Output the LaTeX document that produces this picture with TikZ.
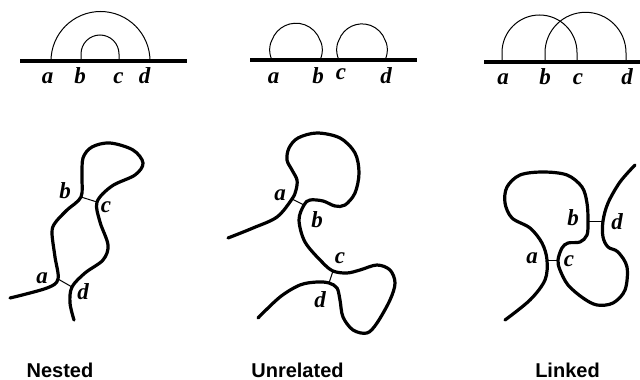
\documentclass[tikz,border=0pt]{standalone}
\usepackage{fontspec}
\setmainfont{Liberation Serif}
\newfontfamily\titlefont{Liberation Sans}
\begin{document}
\tikzset{
 strand/.style={line width=3.2pt, line cap=round, line join=round},
 baseln/.style={line width=3.4pt},
 arcline/.style={line width=1pt},
 bond/.style={line width=1pt},
 lbl/.style={font=\fontsize{23}{26}\selectfont\bfseries\itshape, inner sep=0pt},
 toplbl/.style={lbl, anchor=base},
 ttl/.style={font=\titlefont\fontsize{20}{24}\selectfont\bfseries, inner sep=0pt, anchor=base},
}
\begin{tikzpicture}[x=1pt,y=-1pt]
\useasboundingbox (0,0) rectangle (640,380);

% ---------- top row: arc diagrams ----------
% Nested
\coordinate (n1L) at (20,61); \coordinate (n1R) at (187,61);
\draw[baseln] (n1L) -- (n1R);
\draw[arcline] (51,61) arc[start angle=180, end angle=360, radius=49.5];
\draw[arcline] (81,61) -- (81,54) arc[start angle=180, end angle=360, radius=19] -- (119,61);
\node[toplbl] (ta1) at (47.5,83) {a};
\node[toplbl] (tb1) at (80,83) {b};
\node[toplbl] (tc1) at (118.5,83) {c};
\node[toplbl] (td1) at (144.5,83) {d};

% Unrelated
\coordinate (n2L) at (250,60); \coordinate (n2R) at (417,60);
\draw[baseln] (n2L) -- (n2R);
\draw[arcline] (272,60) .. controls (268,52) and (270,43) .. (272,40) arc[start angle=200, end angle=340, radius=25.5] .. controls (322,43) and (324,52) .. (320,60);
\draw[arcline] (339,60) .. controls (335,52) and (337,43) .. (339,40) arc[start angle=200, end angle=340, radius=24.5] .. controls (387,43) and (389,52) .. (385,60);
\node[toplbl] (ta2) at (273.5,83) {a};
\node[toplbl] (tb2) at (318,83) {b};
\node[toplbl] (tc2) at (341,79) {c};
\node[toplbl] (td2) at (386,83) {d};

% Linked
\coordinate (n3L) at (484,62); \coordinate (n3R) at (640,62);
\draw[baseln] (n3L) -- (n3R);
\draw[arcline] (502,62) -- (502,52.5) arc[start angle=180, end angle=360, radius=37.5] -- (577,62);
\draw[arcline] (545,62) -- (545,52.8) arc[start angle=180, end angle=360, radius=40.5] -- (626,62);
\node[toplbl] (ta3) at (503,84) {a};
\node[toplbl] (tb3) at (545,84) {b};
\node[toplbl] (tc3) at (578,84) {c};
\node[toplbl] (td3) at (627,84) {d};

% ---------- bottom row: strands ----------
% Nested
\coordinate (a1) at (58,279);
\coordinate (b1) at (81,197);
\coordinate (c1) at (97,202);
\coordinate (d1) at (72,287);
\draw[strand] plot[smooth, tension=0.55] coordinates {
 (10,298) (47,288) (a1) (55,257) (52,233) (55,223) (67,210) (b1)
 (82,177) (83,158) (92,147) (110,143) (133,150) (143,163) (135,175)
 (112,186) (c1) (100,222) (108,245) (103,260) (85,273) (d1) (70,303) (74,320)};
\draw[bond] (a1) -- (d1);
\draw[bond] (b1) -- (c1);
\node[lbl] (la1) at (42,278) {a};
\node[lbl] (lb1) at (65,191) {b};
\node[lbl] (lc1) at (106,207) {c};
\node[lbl] (ld1) at (83,292) {d};

% Unrelated
\coordinate (a2) at (292,199);
\coordinate (b2) at (304,205);
\coordinate (c2) at (333,271);
\coordinate (d2) at (329,283);
\draw[strand] plot[smooth, tension=0.55] coordinates {
 (228,238) (253,228) (277,217) (a2) (296,190) (297,180) (292,170) (287,160)
 (289,148) (298,138) (317,133) (340,138) (355,153) (359,173) (355,193)
 (345,205) (335,206) (323,201) (310,200) (b2) (299,220) (305,242) (322,262)
 (c2) (347,273) (360,270) (377,265) (390,270) (395,283) (390,300) (377,323)
 (367,333) (353,330) (343,317) (340,300) (337,288) (d2) (317,282) (300,285)
 (280,297) (258,318)};
\draw[bond] (a2) -- (b2);
\draw[bond] (c2) -- (d2);
\node[lbl] (la2) at (280,195) {a};
\node[lbl] (lb2) at (317,220) {b};
\node[lbl] (lc2) at (340,258) {c};
\node[lbl] (ld2) at (320,300) {d};

% Linked
\coordinate (a3) at (547,260);
\coordinate (b3) at (588,221);
\coordinate (c3) at (558,260);
\coordinate (d3) at (603,221);
\draw[strand] plot[smooth, tension=0.55] coordinates {
 (505,320) (530,300) (545,280) (a3) (542,243) (530,228) (512,218) (505,203)
 (507,187) (520,175) (543,172) (567,175) (582,187) (587,203) (b3) (587,235)
 (580,242) (568,243) (562,248) (c3) (560,270) (568,285) (583,298) (597,305)
 (613,303) (625,290) (627,267) (618,252) (608,247) (603,237) (d3) (608,203)
 (620,182) (635,165)};
\draw[bond] (a3) -- (c3);
\draw[bond] (b3) -- (d3);
\node[lbl] (la3) at (532,258) {a};
\node[lbl] (lb3) at (573,218) {b};
\node[lbl] (lc3) at (569,261) {c};
\node[lbl] (ld3) at (617,222) {d};

% ---------- titles ----------
\node[ttl] (t1) at (60,377) {Nested};
\node[ttl] (t2) at (297.5,377) {Unrelated};
\node[ttl] (t3) at (567.5,377) {Linked};
\end{tikzpicture}
\end{document}
